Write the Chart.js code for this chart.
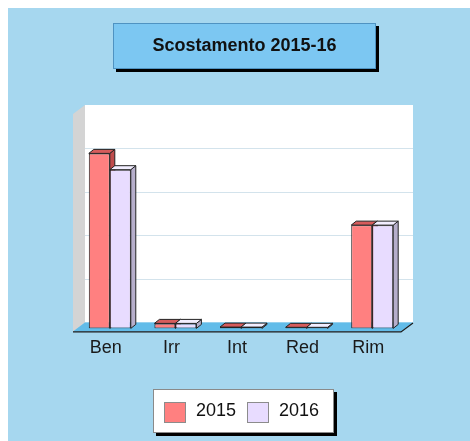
<!DOCTYPE html>
<html>
<head>
<meta charset="utf-8">
<script src="https://cdn.jsdelivr.net/npm/chart.js@4/dist/chart.umd.min.js"></script>
<style>
    body { margin: 0; background: #fff; }
    .wrap { position: absolute; left: 8px; top: 8px; width: 462px; height: 433px; }
</style>
</head>
<body>
<div class="wrap"><canvas id="scost" width="462" height="433"></canvas></div>
<script>
// data
const categories = ['Ben', 'Irr', 'Int', 'Red', 'Rim'];
const years = ['2015', '2016'];
const values2015 = [80.5, 2.3, 0.6, 0.5, 47.5];
const values2016 = [73, 2.3, 0.6, 0.5, 47.5];

const FONT = '"Liberation Sans", Arial, sans-serif';
const front = ['#ff8080', '#e8dcff'];
const topFace = ['#d65c5c', '#f2eeff'];
const sideFace = ['#bf4c4c', '#b6aecb'];

// fake 3d: depth of the walls and of the bars
const wallDx = 12, wallDy = -9;
const barShiftX = 4, barShiftY = -3;
const barDx = 5, barDy = -4;

function poly(ctx, pts, fill, stroke) {
    ctx.beginPath();
    ctx.moveTo(pts[0][0], pts[0][1]);
    for (let i = 1; i < pts.length; i++) ctx.lineTo(pts[i][0], pts[i][1]);
    ctx.closePath();
    ctx.fillStyle = fill;
    ctx.fill();
    if (stroke) {
        ctx.strokeStyle = stroke;
        ctx.lineWidth = 1;
        ctx.stroke();
    }
}

const scene = {
    id: 'scene',
    beforeDraw(chart) {
        const ctx = chart.ctx;
        const a = chart.chartArea;
        const y = chart.scales.y;
        ctx.save();
        ctx.fillStyle = '#a6d7ef';
        ctx.fillRect(0, 0, chart.width, chart.height);

        // back wall
        ctx.fillStyle = '#ffffff';
        ctx.fillRect(a.left + wallDx, a.top + wallDy, a.right - a.left, a.bottom - a.top);
        // grid on the back wall
        ctx.strokeStyle = '#d3e3ec';
        ctx.lineWidth = 1;
        [20, 40, 60, 80].forEach(function (v) {
            const py = Math.round(y.getPixelForValue(v) + wallDy) + 0.5;
            ctx.beginPath();
            ctx.moveTo(a.left + wallDx, py);
            ctx.lineTo(a.right + wallDx, py);
            ctx.stroke();
        });
        // left wall
        poly(ctx, [[a.left, a.bottom], [a.left, a.top], [a.left + wallDx, a.top + wallDy], [a.left + wallDx, a.bottom + wallDy]], '#d4d4d4');
        // floor
        poly(ctx, [[a.left, a.bottom], [a.right, a.bottom], [a.right + wallDx, a.bottom + wallDy], [a.left + wallDx, a.bottom + wallDy]], '#62bce9');
        ctx.strokeStyle = '#1a1a1a';
        ctx.lineWidth = 1.2;
        ctx.beginPath();
        ctx.moveTo(a.left, a.bottom + 0.5);
        ctx.lineTo(a.right, a.bottom + 0.5);
        ctx.lineTo(a.right + wallDx, a.bottom + wallDy + 0.5);
        ctx.stroke();

        // title box
        const tx = 105, ty = 15, tw = 263, th = 46;
        ctx.fillStyle = '#000';
        ctx.fillRect(tx + 3, ty + 3, tw, th);
        ctx.fillStyle = '#7cc7f2';
        ctx.fillRect(tx, ty, tw, th);
        ctx.strokeStyle = '#4f93c2';
        ctx.lineWidth = 1;
        ctx.strokeRect(tx + 0.5, ty + 0.5, tw - 1, th - 1);
        ctx.fillStyle = '#111';
        ctx.font = 'bold 18px ' + FONT;
        ctx.textAlign = 'center';
        ctx.textBaseline = 'middle';
        ctx.fillText('Scostamento 2015-16', tx + tw / 2, ty + th / 2);

        // legend box
        const lx = 145, ly = 381, lw = 181, lh = 44;
        ctx.fillStyle = '#000';
        ctx.fillRect(lx + 3, ly + 3, lw, lh);
        ctx.fillStyle = '#fff';
        ctx.fillRect(lx, ly, lw, lh);
        ctx.strokeStyle = '#8a8a8a';
        ctx.strokeRect(lx + 0.5, ly + 0.5, lw - 1, lh - 1);
        const swX = [156, 239];
        ctx.font = '18px ' + FONT;
        ctx.textAlign = 'left';
        chart.data.datasets.forEach(function (ds, i) {
            ctx.fillStyle = ds.backgroundColor;
            ctx.fillRect(swX[i], 394, 22, 21);
            ctx.strokeStyle = '#8c8c8c';
            ctx.strokeRect(swX[i] + 0.5, 394.5, 21, 20);
            ctx.fillStyle = '#111';
            ctx.fillText(ds.label, swX[i] + 32, 403);
        });
        ctx.restore();
    },
    beforeDatasetsDraw(chart) {
        const ctx = chart.ctx;
        ctx.save();
        ctx.translate(barShiftX, barShiftY);
        // sides and tops first, fronts are drawn by Chart.js over them
        const n = chart.data.labels.length;
        for (let j = 0; j < n; j++) {
            chart.data.datasets.forEach(function (ds, i) {
                const bar = chart.getDatasetMeta(i).data[j];
                const l = bar.x - bar.width / 2, r = bar.x + bar.width / 2;
                const t = bar.y, b = bar.base;
                poly(ctx, [[r, b], [r, t], [r + barDx, t + barDy], [r + barDx, b + barDy]], sideFace[i], '#222');
                poly(ctx, [[l, t], [r, t], [r + barDx, t + barDy], [l + barDx, t + barDy]], topFace[i], '#222');
            });
        }
    },
    afterDatasetsDraw(chart) {
        chart.ctx.restore();
    }
};

new Chart(document.getElementById('scost'), {
    type: 'bar',
    data: {
        labels: categories,
        datasets: [
            { label: years[0], data: values2015, backgroundColor: front[0] },
            { label: years[1], data: values2016, backgroundColor: front[1] }
        ]
    },
    options: {
        responsive: false,
        animation: false,
        layout: { padding: { left: 65, right: 69, top: 106, bottom: 76 } },
        datasets: {
            bar: {
                borderColor: '#222',
                borderWidth: 1,
                borderSkipped: false,
                categoryPercentage: 0.64,
                barPercentage: 1
            }
        },
        plugins: {
            legend: { display: false },
            title: { display: false },
            tooltip: { enabled: false }
        },
        scales: {
            x: {
                grid: { display: false, drawTicks: false },
                border: { display: false },
                ticks: { color: '#1a1a1a', padding: 6, font: { family: FONT, size: 18 } }
            },
            y: {
                display: false,
                min: 0,
                max: 100
            }
        }
    },
    plugins: [scene]
});
</script>
</body>
</html>
